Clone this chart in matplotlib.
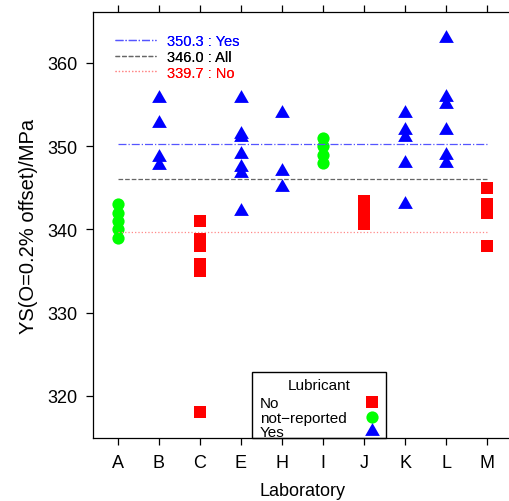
import matplotlib
matplotlib.use("Agg")
import matplotlib.pyplot as plt
from matplotlib.lines import Line2D
from matplotlib.patches import Rectangle

plt.rcParams['font.family'] = ['Liberation Sans', 'DejaVu Sans']

# laboratories on the x axis
labs = ["A", "B", "C", "E", "H", "I", "J", "K", "L", "M"]

# yield strength per laboratory, grouped by lubricant
ys_no = {
    "C": [341.0, 338.9, 338.0, 335.9, 335.0, 318.0],
    "J": [340.6, 341.5, 342.5, 343.4],
    "M": [345.0, 343.0, 342.0, 338.0],
}
ys_notrep = {
    "A": [339.0, 340.0, 341.0, 342.0, 343.0],
    "I": [348.0, 349.0, 350.0, 351.0],
}
ys_yes = {
    "B": [356.0, 353.0, 349.0, 348.0],
    "E": [356.0, 351.7, 351.3, 349.3, 347.7, 347.0, 342.5],
    "H": [354.2, 347.3, 345.3],
    "K": [354.2, 352.2, 351.3, 348.2, 343.3],
    "L": [363.2, 356.2, 355.3, 352.2, 349.2, 348.2],
}

# group means shown as reference lines
mean_names = ["Yes", "All", "No"]
mean_values = [350.3, 346.0, 339.7]

RED, GREEN, BLUE = "#FF0000", "#00FF00", "#0000FF"
TRI = [(0, 0.87), (-1, -0.87), (1, -0.87)]

fig = plt.figure(figsize=(5.09, 5.02), dpi=100)
ax = fig.add_axes([0.1833, 0.1255, 0.822, 0.848])

xpos = {lab: i + 1 for i, lab in enumerate(labs)}


def draw_group(data, marker, color, ms):
    for lab, vals in data.items():
        ax.plot([xpos[lab]] * len(vals), vals, ls="none", marker=marker,
                color=color, mec=color, ms=ms, mew=0)


draw_group(ys_no, "s", RED, 8.4)
draw_group(ys_notrep, "o", GREEN, 8.8)
draw_group(ys_yes, TRI, BLUE, 10.6)

# mean lines from first to last laboratory
line_styles = [("-.", "#5555ff"), ("--", "#666666"), (":", "#ff8888")]
text_colors = [BLUE, "black", RED]
handles = []
for val, (ls, col) in zip(mean_values, line_styles):
    ax.plot([1, len(labs)], [val, val], ls=ls, color=col, lw=0.9)
    handles.append(Line2D([], [], ls=ls, color=col, lw=0.9))

labels = [f"{v:.1f} : {n}" for v, n in zip(mean_values, mean_names)]
leg = ax.legend(handles, labels, loc="upper left", bbox_to_anchor=(0.035, 0.966),
                frameon=False, fontsize=10.5, handlelength=2.8, handletextpad=0.75,
                labelspacing=0.12, borderpad=0, labelcolor=text_colors)
ax.add_artist(leg)

# lubricant key in the lower part of the panel
tr = ax.transAxes
ax.add_patch(Rectangle((0.380, 0.0), 0.3196, 0.1543, transform=tr, fill=False,
                       ec="black", lw=1, clip_on=False, zorder=5))
ax.text(0.539, 0.124, "Lubricant", transform=tr, ha="center", va="center", fontsize=11)
key_names = ["No", "not\u2212reported", "Yes"]
key_y = [0.084, 0.0505, 0.0204]
key_text_y = [0.082, 0.0466, 0.0138]
key_style = [("s", RED, 8.4), ("o", GREEN, 8.8), (TRI, BLUE, 10.6)]
for name, ty, my, (mk, col, ms) in zip(key_names, key_text_y, key_y, key_style):
    ax.text(0.3987, ty, name, transform=tr, ha="left", va="center", fontsize=11)
    ax.plot([0.6654], [my], transform=tr, marker=mk, color=col, mew=0, ms=ms,
            clip_on=False, zorder=6)

ax.set_xlim(0.4, 10.6)
ax.set_ylim(314.93, 366.09)
ax.set_xticks(range(1, len(labs) + 1))
ax.set_xticklabels(labs)
ax.set_yticks([320, 330, 340, 350, 360])
ax.tick_params(direction="out", length=5.3, width=0.9, labelsize=13, pad=6,
               top=True, right=True, labeltop=False, labelright=False)
for sp in ax.spines.values():
    sp.set_linewidth(0.9)

ax.set_xlabel("Laboratory", fontsize=13, labelpad=8)
ax.set_ylabel("YS(O=0.2% offset)/MPa", fontsize=14.5, labelpad=7)

fig.savefig("out.png", dpi=100)
